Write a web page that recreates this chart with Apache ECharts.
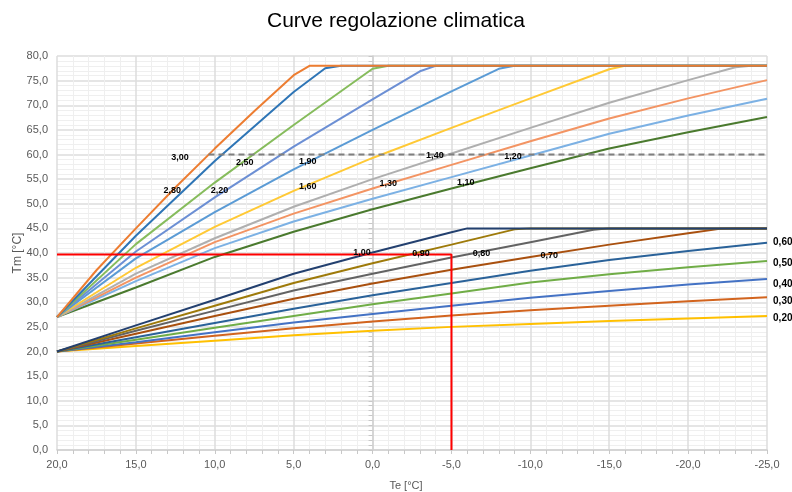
<!DOCTYPE html>
<html>
<head>
<meta charset="utf-8">
<script src="https://cdn.jsdelivr.net/npm/echarts@6/dist/echarts.min.js"></script>
<style>html,body{margin:0;padding:0;background:#fff}#c{width:792px;height:492px}</style>
</head>
<body>
<div id="c"></div>
<script>
// ---- Data (Te [°C], Tm [°C]) ----
// Upper family (start 27 °C at Te 20, capped at 78 °C)
const k300 = [[20,27],[17.5,36.5],[15,45.0],[12.5,53.3],[10,61.2],[7.5,68.8],[5,76.1],[4,78],[-25,78]];
const k280 = [[20,27],[15,43.5],[10,58.7],[5,72.7],[3,77.5],[2,78],[-25,78]];
const k250 = [[20,27],[15,41.8],[10,54.3],[5,66.0],[0,77.4],[-1,78],[-25,78]];
const k220 = [[20,27],[15,40.3],[10,51.3],[5,61.6],[0,71.2],[-3,76.9],[-4,78],[-25,78]];
const k190 = [[20,27],[15,38.9],[10,48.3],[5,57.0],[0,65.0],[-5,72.8],[-8,77.4],[-9,78],[-25,78]];
const k160 = [[20,27],[15,37.0],[10,45.3],[5,52.6],[0,59.3],[-5,65.4],[-10,71.4],[-15,77.3],[-16,78],[-25,78]];
const k140 = [[20,27],[15,35.8],[10,43.0],[5,49.4],[0,55.0],[-5,60.2],[-10,65.4],[-15,70.5],[-20,75.1],[-23,77.7],[-24,78],[-25,78]];
const k130 = [[20,27],[15,35.0],[10,42.2],[5,48.0],[0,53.1],[-5,57.9],[-10,62.7],[-15,67.3],[-20,71.4],[-25,75.1]];
const k120 = [[20,27],[15,34.3],[10,41.0],[5,46.4],[0,51.0],[-5,55.4],[-10,59.8],[-15,64.2],[-20,67.9],[-25,71.3]];
const k110 = [[20,27],[15,33.0],[10,39.2],[5,44.3],[0,48.9],[-5,53.1],[-10,57.2],[-15,61.2],[-20,64.5],[-25,67.6]];
// Lower family (start 20 °C at Te 20, capped at 45 °C)
const k100 = [[20,20],[15,25.3],[10,30.5],[5,35.8],[0,40.1],[-5,44.2],[-6,45],[-25,45]];
const k090 = [[20,20],[15,24.7],[10,29.3],[5,33.9],[0,37.9],[-5,41.7],[-9,44.8],[-10,45],[-25,45]];
const k080 = [[20,20],[15,24.2],[10,28.3],[5,32.4],[0,35.8],[-5,39.1],[-10,42.2],[-14,44.7],[-15,45],[-25,45]];
const k070 = [[20,20],[15,23.6],[10,27.2],[5,30.7],[0,33.8],[-5,36.6],[-10,39.2],[-15,41.7],[-20,44.0],[-22,44.9],[-23,45],[-25,45]];
const k060 = [[20,20],[15,22.9],[10,25.8],[5,28.7],[0,31.4],[-5,33.9],[-10,36.4],[-15,38.6],[-20,40.4],[-25,42.1]];
const k050 = [[20,20],[15,22.4],[10,24.8],[5,27.2],[0,29.6],[-5,31.8],[-10,34.0],[-15,35.7],[-20,37.1],[-25,38.4]];
const k040 = [[20,20],[15,21.9],[10,23.9],[5,25.9],[0,27.6],[-5,29.3],[-10,30.9],[-15,32.3],[-20,33.6],[-25,34.7]];
const k030 = [[20,20],[15,21.6],[10,23.2],[5,24.7],[0,26.1],[-5,27.3],[-10,28.4],[-15,29.3],[-20,30.2],[-25,31.0]];
const k020 = [[20,20],[15,21.1],[10,22.2],[5,23.3],[0,24.2],[-5,25.0],[-10,25.6],[-15,26.2],[-20,26.7],[-25,27.2]];
// Reference lines
const setPoint = [[20,39.7],[-5,39.7],[-5,0]];
const limit60 = [[10.4,60],[-25,60]];
// Curve labels (text, Te, Tm)
const innerLabelText = ['3,00','2,80','2,50','2,20','1,90','1,60','1,40','1,30','1,20','1,10','1,00','0,90','0,80','0,70'];
const innerLabelTe   = [12.2, 12.7, 8.1, 9.7, 4.1, 4.1, -3.95, -1.0, -8.9, -5.9, 0.67, -3.07, -6.9, -11.2];
const innerLabelTm   = [59.3, 52.6, 58.3, 52.6, 58.5, 53.6, 59.7, 54.2, 59.5, 54.4, 40.0, 39.8, 39.8, 39.4];
const rightLabelText = ['0,60','0,50','0,40','0,30','0,20'];
const rightLabelTe   = [-26.0, -26.0, -26.0, -26.0, -26.0];
const rightLabelTm   = [42.2, 38.0, 33.7, 30.3, 26.8];

// ---- Build options ----
const curves = [
  [k020,'#FFC000'],[k030,'#D2641E'],[k040,'#4472C4'],[k050,'#70AD47'],[k060,'#2A6299'],
  [k070,'#A9500F'],[k080,'#636363'],[k090,'#9E7A0A'],[k100,'#23406F'],
  [k110,'#4A7A2E'],[k120,'#7CB1E4'],[k130,'#F39463'],[k140,'#AFAFAF'],[k160,'#FFC935'],
  [k190,'#5B9BD5'],[k220,'#6C8FD4'],[k250,'#86BC5C'],[k280,'#2E75B6'],[k300,'#ED7D31']
];
const series = curves.map(([d,c]) => ({
  type:'line', data:d, showSymbol:false, symbol:'none', silent:true,
  lineStyle:{color:c, width:2}, z:3
}));
series.push({type:'line', data:limit60, showSymbol:false, symbol:'none', silent:true,
  lineStyle:{color:'#7F7F7F', width:1.8, type:[6,4]}, z:4});
series.push({type:'line', data:setPoint, showSymbol:false, symbol:'none', silent:true,
  lineStyle:{color:'#FF0000', width:2}, z:5});
const mkLabels = (txt, te, tm, size) => ({
  type:'scatter', symbol:'circle', symbolSize:2, itemStyle:{color:'rgba(255,255,255,0)'},
  silent:true, clip:false, z:10,
  data: txt.map((t,i)=>[te[i], tm[i], t]),
  label:{show:true, position:'inside', formatter:p=>p.data[2], color:'#000', opacity:1,
    fontWeight:'bold', fontSize:size, fontFamily:'Liberation Sans, Arial, sans-serif'},
  labelLayout:{hideOverlap:false}
});
series.push(mkLabels(innerLabelText, innerLabelTe, innerLabelTm, 9));
series.push(mkLabels(rightLabelText, rightLabelTe, rightLabelTm, 10));

const fmt = v => v.toFixed(1).replace('.', ',');
const axisFont = {color:'#595959', fontSize:11, fontFamily:'Liberation Sans, Arial, sans-serif'};
const option = {
  animation:false,
  backgroundColor:'#fff',
  title:{text:'Curve regolazione climatica', left:'center', top:6,
    textStyle:{fontSize:21, fontWeight:'normal', color:'#000', fontFamily:'Liberation Sans, Arial, sans-serif'}},
  grid:{left:57, right:25, top:56, bottom:42, containLabel:false, outerBoundsMode:'none'},
  xAxis:{type:'value', inverse:true, min:-25, max:20, interval:5,
    name:'Te [°C]', nameLocation:'middle', nameGap:30, nameMoveOverlap:false,
    nameTextStyle:{color:'#595959', fontSize:11, fontFamily:'Liberation Sans, Arial, sans-serif', padding:[0,12,0,0]},
    axisLine:{show:true, onZero:false, lineStyle:{color:'#D0D0D0', width:1.5}},
    axisTick:{show:true, length:4, lineStyle:{color:'#C8C8C8'}},
    minorTick:{show:true, splitNumber:5, length:4, lineStyle:{color:'#C8C8C8'}},
    axisLabel:Object.assign({formatter:fmt, margin:9}, axisFont),
    splitLine:{show:true, lineStyle:{color:'#DCDCDC', width:1.5}},
    minorSplitLine:{show:true, lineStyle:{color:'#EFEFEF', width:1}}
  },
  yAxis:{type:'value', min:0, max:80, interval:5,
    name:'Tm [°C]', nameLocation:'middle', nameGap:33, nameRotate:90, nameMoveOverlap:false,
    nameTextStyle:{color:'#595959', fontSize:12, fontFamily:'Liberation Sans, Arial, sans-serif'},
    axisLine:{show:true, lineStyle:{color:'#D0D0D0', width:1.5}},
    axisTick:{show:true, length:4, lineStyle:{color:'#C8C8C8'}},
    minorTick:{show:true, splitNumber:5, length:4, lineStyle:{color:'#C8C8C8'}},
    axisLabel:Object.assign({formatter:fmt, margin:9}, axisFont),
    splitLine:{show:true, lineStyle:{color:'#DCDCDC', width:1.5}},
    minorSplitLine:{show:true, lineStyle:{color:'#EFEFEF', width:1}}
  },
  series:series
};
const chart = echarts.init(document.getElementById('c'));
chart.setOption(option);
</script>
</body>
</html>
